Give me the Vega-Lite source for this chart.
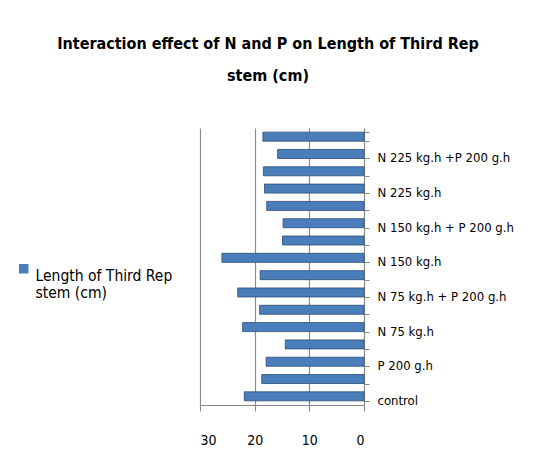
{
  "$schema": "https://vega.github.io/schema/vega-lite/v6.json",
  "width": 164,
  "height": 277,
  "autosize": {"type": "none"},
  "padding": {"left": 200, "top": 128, "right": 171, "bottom": 69},
  "background": "white",
  "title": {
    "text": ["Interaction effect of N and P on Length of Third Rep", "stem (cm)"],
    "font": "DejaVu Sans Condensed",
    "fontSize": 16,
    "fontWeight": "bold",
    "color": "#000000",
    "anchor": "middle",
    "frame": "group",
    "dx": -14,
    "offset": 38,
    "lineHeight": 32
  },
  "data": {
    "values": [
      {"treatment": "N 225 kg.h +P 200 g.h|b", "series": "Length of Third Rep stem (cm)", "length": 18.5},
      {"treatment": "N 225 kg.h +P 200 g.h", "series": "Length of Third Rep stem (cm)", "length": 15.8},
      {"treatment": "N 225 kg.h|b", "series": "Length of Third Rep stem (cm)", "length": 18.4},
      {"treatment": "N 225 kg.h", "series": "Length of Third Rep stem (cm)", "length": 18.2},
      {"treatment": "N 150 kg.h + P 200 g.h|b", "series": "Length of Third Rep stem (cm)", "length": 17.8},
      {"treatment": "N 150 kg.h + P 200 g.h", "series": "Length of Third Rep stem (cm)", "length": 14.8},
      {"treatment": "N 150 kg.h|b", "series": "Length of Third Rep stem (cm)", "length": 14.9},
      {"treatment": "N 150 kg.h", "series": "Length of Third Rep stem (cm)", "length": 26.0},
      {"treatment": "N 75 kg.h + P 200 g.h|b", "series": "Length of Third Rep stem (cm)", "length": 19.0},
      {"treatment": "N 75 kg.h + P 200 g.h", "series": "Length of Third Rep stem (cm)", "length": 23.1},
      {"treatment": "N 75 kg.h|b", "series": "Length of Third Rep stem (cm)", "length": 19.1},
      {"treatment": "N 75 kg.h", "series": "Length of Third Rep stem (cm)", "length": 22.2},
      {"treatment": "P 200 g.h|b", "series": "Length of Third Rep stem (cm)", "length": 14.4},
      {"treatment": "P 200 g.h", "series": "Length of Third Rep stem (cm)", "length": 17.9},
      {"treatment": "control|b", "series": "Length of Third Rep stem (cm)", "length": 18.7},
      {"treatment": "control", "series": "Length of Third Rep stem (cm)", "length": 21.9}
    ]
  },
  "mark": {"type": "bar", "stroke": "#2c4d75", "strokeWidth": 0.8},
  "encoding": {
    "y": {
      "field": "treatment",
      "type": "nominal",
      "sort": null,
      "title": null,
      "scale": {"paddingInner": 0.48, "paddingOuter": 0.24},
      "axis": {
        "orient": "right",
        "labelExpr": "test(/[|]/, datum.label + '') ? '' : datum.label",
        "tickBand": "extent",
        "labelFont": "DejaVu Sans Condensed",
        "labelFontSize": 13,
        "labelColor": "#000000",
        "labelPadding": 8,
        "labelBaseline": "middle",
        "labelOffset": 4,
        "domainColor": "#888888",
        "tickColor": "#888888",
        "tickSize": 5,
        "grid": false
      }
    },
    "x": {
      "field": "length",
      "type": "quantitative",
      "title": null,
      "scale": {"domain": [0, 30], "reverse": true, "nice": false},
      "axis": {
        "values": [0, 10, 20, 30],
        "labelFont": "DejaVu Sans Condensed",
        "labelFontSize": 14,
        "labelColor": "#000000",
        "labelPadding": 22,
        "domainColor": "#888888",
        "tickColor": "#888888",
        "tickSize": 6,
        "grid": true,
        "gridColor": "#8c8c8c",
        "gridWidth": 1.2
      }
    },
    "color": {
      "field": "series",
      "type": "nominal",
      "scale": {"range": ["#4a7ebb"]},
      "legend": {
        "title": null,
        "orient": "none",
        "legendX": -184,
        "legendY": 133,
        "symbolType": "square",
        "symbolSize": 90,
        "symbolStrokeWidth": 0,
        "labelFont": "DejaVu Sans Condensed",
        "labelFontSize": 15.5,
        "labelColor": "#000000",
        "labelLimit": 300,
        "labelExpr": "[slice(datum.label, 0, 19), slice(datum.label, 20)]",
        "labelBaseline": "top"
      }
    }
  },
  "config": {"view": {"stroke": null}}
}
